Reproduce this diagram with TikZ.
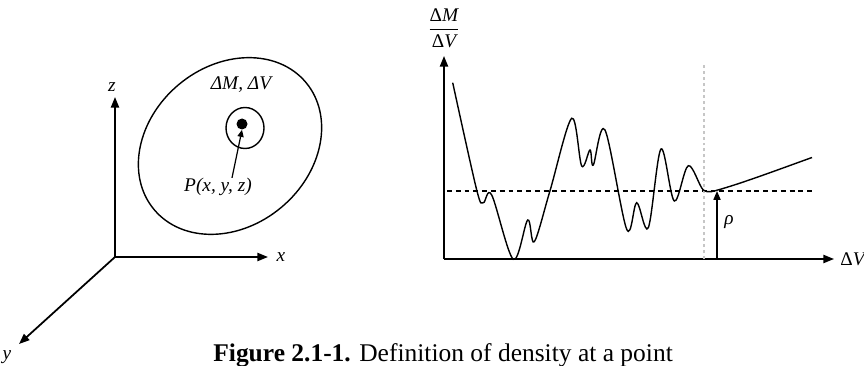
\documentclass[tikz,border=0pt]{standalone}
\usepackage{fontspec}
\setmainfont{Liberation Serif}
\usepackage{amsmath}
\usetikzlibrary{arrows.meta}
\tikzset{
  axis/.style={line width=1pt,-{Triangle[length=6pt,width=4.6pt]}},
  lbl/.style={font=\fontsize{11}{13}\selectfont\itshape,inner sep=0pt},
  thin tip/.style={line width=0.8pt,-{Triangle[length=5pt,width=4pt]}},
}
\begin{document}
\begin{tikzpicture}[x=0.02cm,y=0.02cm]
\useasboundingbox (0,0) rectangle (864,365);
\clip (0,0) rectangle (864,365);

% axes of the body
\coordinate (o1) at (115,108);
\coordinate (zend) at (115,268);
\coordinate (xend) at (268,108);
\coordinate (yend) at (19,21);
\draw[axis] (o1) -- (zend);
\draw[axis] (o1) -- (xend);
\draw[axis] (o1) -- (yend);
\node[lbl] (zlab) at (112,278) {z};
\node[lbl] (xlab) at (281,108) {x};
\node[lbl] (ylab) at (7,8) {y};

% body, small volume and the point
\draw[line width=0.8pt,rotate around={40:(230,219)}] (230,219) ellipse (99 and 80);
\node[lbl] (dmv) at (241,280) {ΔM, ΔV};
\draw[line width=0.8pt] (245,237) ellipse (19 and 20.5);
\node[circle,fill,inner sep=0pt,minimum size=0.22cm] (pt) at (242,241) {};
\node[lbl] (plab) at (218,178) {P(x, y, z)};
\draw[line width=0.7pt,-{Triangle[length=4pt,width=3.5pt]}] ([xshift=0.28cm]plab.north) -- (pt.south);

% density against volume
\coordinate (o2) at (444,106);
\coordinate (vend) at (444,309);
\coordinate (hend) at (834,106);
\draw[axis] (o2) -- (vend);
\draw[axis] (o2) -- (hend);
\node[font=\fontsize{11}{13}\selectfont,inner sep=0pt] (ratio) at (444,337)
  {$\dfrac{\text{Δ}\textit{M}}{\text{Δ}\textit{V}}$};
\node[anchor=west,inner sep=0pt,font=\fontsize{11}{13}\selectfont] (vlab) at (840,106) {Δ\textit{V}};

\coordinate (dl) at (447,174);
\coordinate (dr) at (813,174);
\draw[line width=0.8pt,dash pattern=on 2.8pt off 2.2pt] (dl) -- (dr);

\coordinate (gb) at (704,106);
\coordinate (gt) at (704,300);
\draw[line width=1.2pt,gray!45,dash pattern=on 1.7pt off 1.7pt] (gb) -- (gt);

\coordinate (rb) at (717,106);
\coordinate (rt) at (717,174);
\draw[thin tip] (rb) -- (rt);
\node[lbl] (rho) at (729,143) {ρ};

\draw[line width=0.8pt] plot[smooth,tension=0.55] coordinates {
  (452.7,282.3) (476.7,175) (483.3,162.3) (491.7,170) (513.3,105.7)
  (527.7,145) (534.3,123.3) (550,174.3) (571.7,246.7) (581.7,199)
  (590,215) (593.3,200) (605,235) (626.7,135.7) (636.7,162.3)
  (648.3,137.3) (661,216) (674.3,164) (688.3,199.3) (703.3,175) (716,174.5)}
  .. controls (740,181) and (780,196) .. (812,207.5);

\node[anchor=base west,inner sep=0pt,font=\fontsize{14.5}{17}\selectfont] (cap) at (213,4)
  {\textbf{Figure 2.1-1.} Definition of density at a point};
\end{tikzpicture}
\end{document}
